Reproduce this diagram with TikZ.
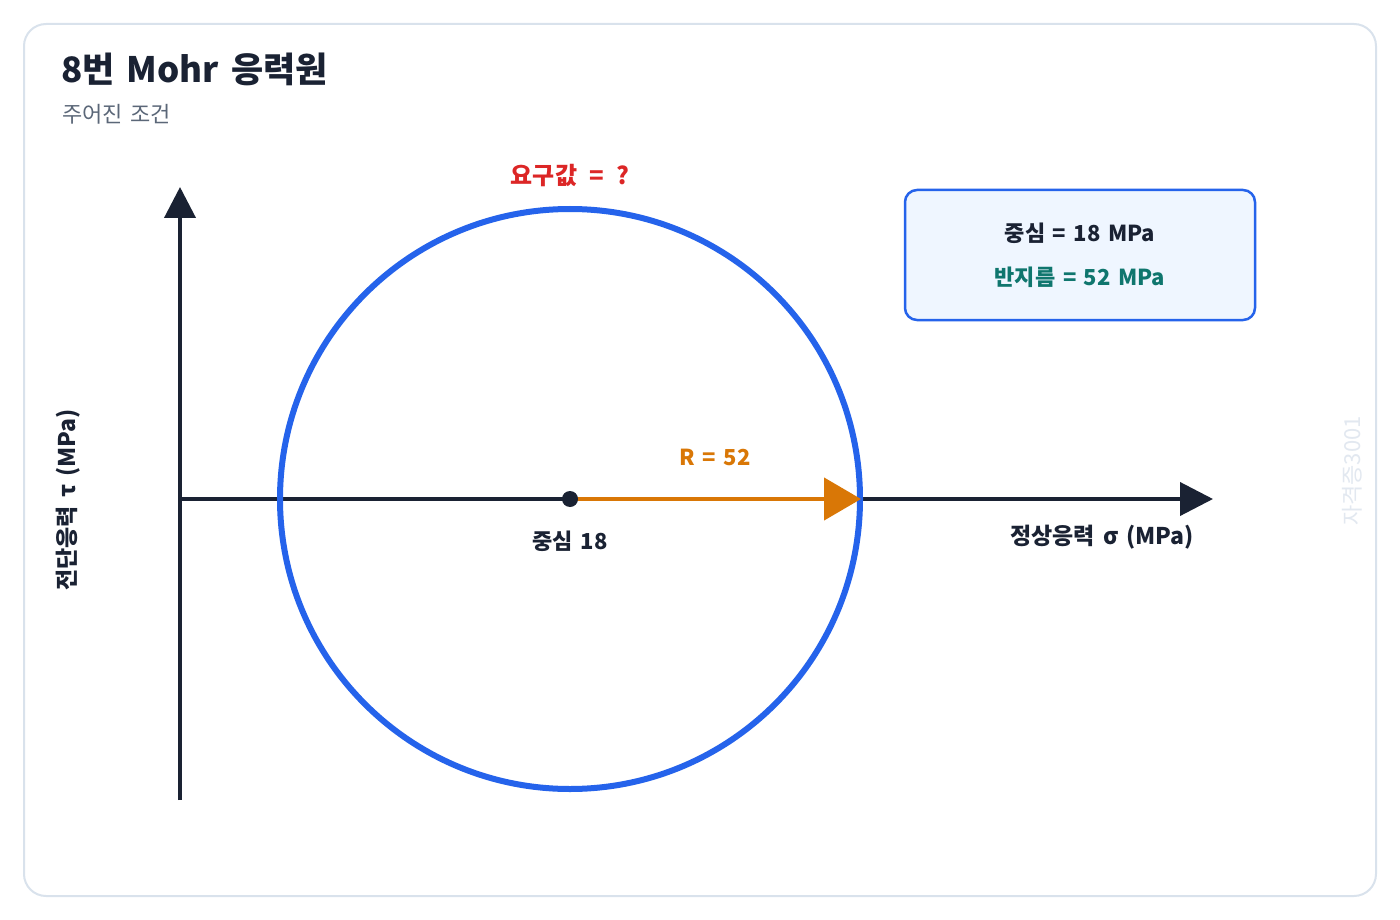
\documentclass[tikz,border=0pt]{standalone}
\usepackage{fontspec}
\setmainfont{Noto Sans CJK KR}[WordSpace={1.5,0.5,0.5}]
\usetikzlibrary{arrows.meta}
\definecolor{ink}{HTML}{1A2233}
\definecolor{subgray}{HTML}{5B6778}
\definecolor{framec}{HTML}{D9E2EC}
\definecolor{circblue}{HTML}{2563EB}
\definecolor{orng}{HTML}{D97706}
\definecolor{redc}{HTML}{DC2626}
\definecolor{tealc}{HTML}{0F766E}
\definecolor{boxfill}{HTML}{EFF6FF}
\definecolor{wmark}{HTML}{E2E8F0}
\tikzset{
  lbl/.style={inner sep=0pt, font=\fontsize{22}{26}\selectfont\bfseries},
  axisline/.style={draw=ink, line width=4pt},
}
\begin{document}
\begin{tikzpicture}[x=1pt,y=-1pt]
\useasboundingbox (0,0) rectangle (1400,920);
\draw[framec, line width=2pt, rounded corners=22pt, fill=white] (24,24) rectangle (1376,896);
% title
\node[anchor=base west, inner sep=0pt, text=ink, font=\fontsize{35}{42}\selectfont\bfseries] (title) at (61,83) {8번 Mohr 응력원};
\node[anchor=base west, inner sep=0pt, text=subgray, font=\fontsize{22}{26}\selectfont] (subtitle) at (62,123) {주어진 조건};
% axes
\coordinate (O) at (180,499);
\coordinate (ytop) at (180,187);
\coordinate (ybot) at (180,800);
\coordinate (xend) at (1213,499);
\draw[axisline, -{Triangle[length=31pt,width=31pt]}] (ybot) -- (ytop);
\draw[axisline, -{Triangle[length=33pt,width=33pt]}] (O) -- (xend);
% circle
\coordinate (C) at (570,499);
\coordinate (Rend) at (861,499);
\draw[circblue, line width=6pt] (C) circle[radius=290];
% radius arrow
\draw[orng, line width=4.5pt, -{Triangle[length=37pt,width=42pt]}] (C) -- (Rend);
\fill[ink] (C) circle[radius=8];
% labels
\node[lbl, text=orng] (rlab) at (715,457) {R = 52};
\node[lbl, text=ink] (clab) at (570,541) {중심 18};
\node[lbl, text=redc, font=\fontsize{24}{28}\selectfont\bfseries] (req) at (570,176) {요구값 \,=\, ?};
\node[lbl, text=ink, font=\fontsize{23}{28}\selectfont\bfseries] (xlab) at (1102,537) {정상응력 σ (MPa)};
\node[lbl, text=ink, rotate=90, font=\fontsize{23}{28}\selectfont\bfseries] (ylab) at (68,500) {전단응력 τ (MPa)};
% info box
\draw[circblue, line width=2.5pt, fill=boxfill, rounded corners=12pt] (905,190) rectangle (1255,320);
\node[lbl, text=ink] (info1) at (1080,233) {중심 = 18 MPa};
\node[lbl, text=tealc] (info2) at (1080,277) {반지름 = 52 MPa};
% watermark
\node[inner sep=0pt, text=wmark, rotate=90, font=\fontsize{22}{26}\selectfont] (wm) at (1352,471) {자격증3001};
\end{tikzpicture}
\end{document}
